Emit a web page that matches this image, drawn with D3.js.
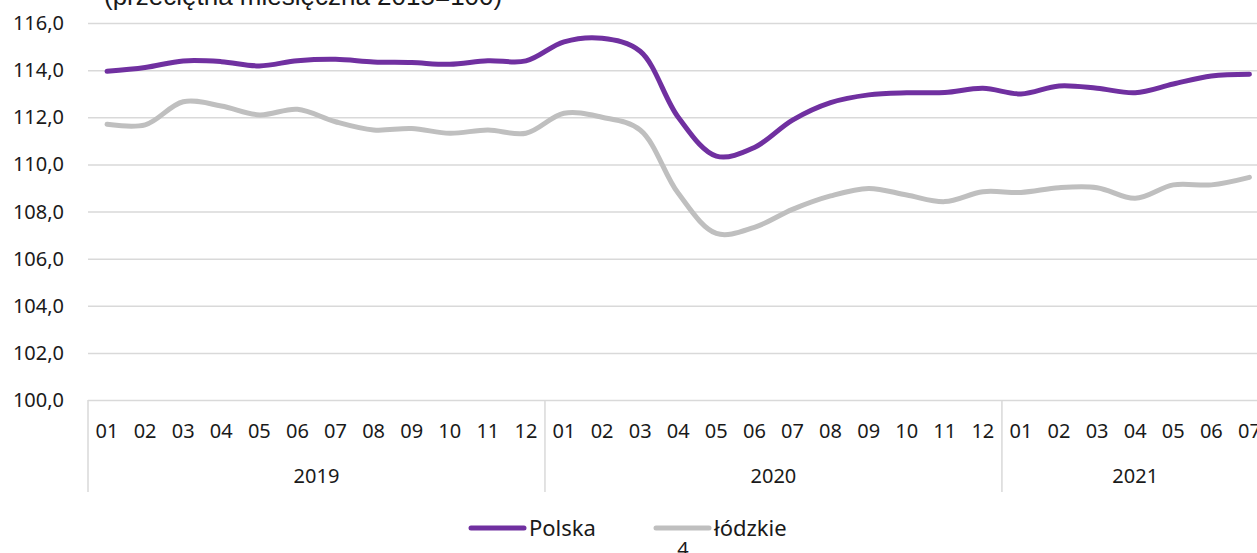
<!DOCTYPE html>
<html>
<head>
<meta charset="utf-8">
<script src="https://cdn.jsdelivr.net/npm/d3@7"></script>
<style>
  body { margin: 0; background: #fff; }
  svg { display: block; font-family: "Noto Sans", sans-serif; }
  .grid line { stroke: #d9d9d9; stroke-width: 1.5; }
  .lbl { fill: #1a1a1a; font-size: 20px; }
</style>
</head>
<body>
<svg id="chart" width="1257" height="553"></svg>
<script>
// dane: wskaźnik (przeciętna miesięczna 2015=100)
const years = ["2019", "2020", "2021"];
const monthsPerYear = [12, 12, 7];
const monthLabels = ["01","02","03","04","05","06","07","08","09","10","11","12"];
const polska = [
  113.95, 114.11, 114.39, 114.36, 114.18, 114.40, 114.46, 114.35, 114.32, 114.25, 114.40, 114.39,
  115.20, 115.35, 114.80, 112.00, 110.35, 110.72, 111.88, 112.62, 112.95, 113.04, 113.05, 113.23,
  112.99, 113.33, 113.23, 113.04, 113.41, 113.75, 113.82
];
const lodzkie = [
  111.70, 111.68, 112.66, 112.48, 112.10, 112.34, 111.81, 111.46, 111.52, 111.32, 111.46, 111.32,
  112.17, 112.00, 111.46, 108.77, 107.07, 107.33, 108.09, 108.66, 108.98, 108.70, 108.42, 108.84,
  108.81, 109.01, 109.01, 108.56, 109.13, 109.13, 109.45
];
const yTicks = [100, 102, 104, 106, 108, 110, 112, 114, 116];
const seriesNames = ["Polska", "łódzkie"];
const seriesColors = ["#7030a0", "#bfbfbf"];

const svg = d3.select("#chart");
const plotLeft = 88, plotTop = 23, plotBottom = 400, step = 38.08;

const categories = years.flatMap((y, i) => monthLabels.slice(0, monthsPerYear[i]).map(m => `${y}-${m}`));

const xScale = d3.scaleBand().domain(categories).range([plotLeft, plotLeft + step * categories.length]);
const yScale = d3.scaleLinear().domain([100, 116]).range([plotBottom, plotTop]);
const fmt = d => d.toFixed(1).replace(".", ",");

// siatka pozioma
svg.append("g")
    .attr("class", "grid")
    .attr("transform", `translate(${plotLeft},0)`)
    .call(d3.axisRight(yScale).tickValues(yTicks).tickSize(1257 - plotLeft).tickFormat(""))
    .call(g => g.select(".domain").remove());

// etykiety osi Y
svg.append("g")
    .selectAll("text")
    .data(yTicks)
    .enter()
    .append("text")
    .attr("class", "lbl")
    .attr("x", 64)
    .attr("y", d => yScale(d))
    .attr("dy", "0.35em")
    .style("text-anchor", "end")
    .text(fmt);

// tytuł (ucięty u góry)
svg.append("text")
    .attr("class", "lbl")
    .attr("x", 104)
    .attr("y", 5)
    .style("font-family", "'Liberation Sans', Arial, sans-serif")
    .style("font-size", "26px")
    .text("(przeciętna miesięczna 2015=100)");

// oś X: miesiące
svg.append("g")
    .selectAll("text")
    .data(categories)
    .enter()
    .append("text")
    .attr("class", "lbl")
    .attr("x", d => xScale(d) + xScale.bandwidth() / 2)
    .attr("y", 431)
    .attr("dy", "0.35em")
    .style("text-anchor", "middle")
    .text(d => d.slice(5));

// granice lat i etykiety lat
let start = 0;
const yearSpans = years.map((y, i) => {
    const first = categories[start];
    const last = categories[start + monthsPerYear[i] - 1];
    start += monthsPerYear[i];
    return { year: y, x0: xScale(first), x1: xScale(last) + xScale.bandwidth() };
});

svg.append("g")
    .selectAll("line")
    .data(yearSpans)
    .enter()
    .append("line")
    .attr("x1", d => d.x0)
    .attr("x2", d => d.x0)
    .attr("y1", plotBottom)
    .attr("y2", 492)
    .attr("stroke", "#d9d9d9")
    .attr("stroke-width", 1.5);

svg.append("g")
    .selectAll("text")
    .data(yearSpans)
    .enter()
    .append("text")
    .attr("class", "lbl")
    .attr("x", d => (d.x0 + d.x1) / 2)
    .attr("y", 476)
    .attr("dy", "0.35em")
    .style("text-anchor", "middle")
    .text(d => d.year);

// linie serii
const line = d3.line()
    .x((d, i) => xScale(categories[i]) + xScale.bandwidth() / 2)
    .y(d => yScale(d))
    .curve(d3.curveCatmullRom.alpha(0.5));

[lodzkie, polska].forEach((values, k) => {
    svg.append("path")
        .datum(values)
        .attr("fill", "none")
        .attr("stroke", k === 0 ? seriesColors[1] : seriesColors[0])
        .attr("stroke-width", 5)
        .attr("stroke-linecap", "round")
        .attr("stroke-linejoin", "round")
        .attr("d", line);
});

// legenda
const legendX = [471, 656];
const legend = svg.append("g")
    .selectAll("g")
    .data(seriesNames)
    .enter()
    .append("g")
    .attr("transform", (d, i) => `translate(${legendX[i]},528)`);
legend.append("line")
    .attr("x1", 0).attr("x2", 53)
    .attr("stroke", (d, i) => seriesColors[i])
    .attr("stroke-width", 5)
    .attr("stroke-linecap", "round");
legend.append("text")
    .attr("class", "lbl")
    .attr("x", 58)
    .attr("dy", "0.35em")
    .style("font-size", "22px")
    .text(d => d);

// numer strony
svg.append("text")
    .attr("class", "lbl")
    .attr("x", 683)
    .attr("y", 556)
    .style("text-anchor", "middle")
    .text("4");
</script>
</body>
</html>
